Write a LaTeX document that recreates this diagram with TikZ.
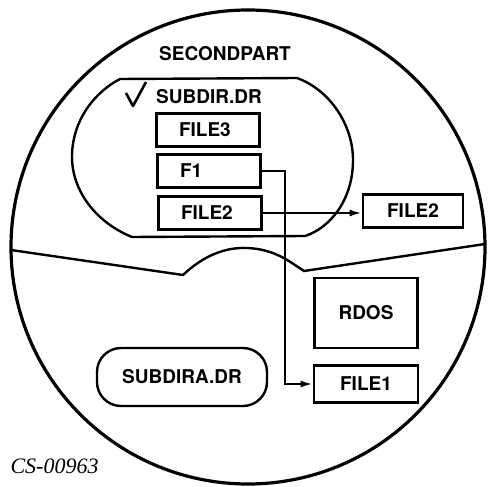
\documentclass[tikz,border=0pt]{standalone}
\usepackage{fontspec}
\setmainfont{TeX Gyre Heros}
\newfontfamily\figfont{Liberation Serif}
\usetikzlibrary{arrows.meta}

\begin{document}
\begin{tikzpicture}[x=1pt,y=-1pt,
  label/.style={font=\fontsize{19}{19}\selectfont\bfseries},
  file/.style={label,draw,line width=2.8pt,minimum height=33pt,inner sep=0pt},
  indent/.style={text width=58pt,inner xsep=22.5pt,align=left},
  link/.style={line width=2pt,-{Latex[length=12pt,width=7pt]}}]
\useasboundingbox (0,0) rectangle (491,487);
\draw[line width=3.2pt] (248,247) circle[radius=237pt];
% part divider with the bump
\draw[line width=2.4pt] (11,250) -- (183,275)
  .. controls (203,256) and (225,247) .. (247,248)
  .. controls (275,249) and (290,262) .. (304,271) -- (485,244);
% SUBDIR.DR region
\draw[line width=2.4pt] (120,79) -- (297,78)
  .. controls (330,90) and (353,125) .. (353,160)
  .. controls (353,200) and (330,228) .. (305,236) -- (132,237)
  .. controls (95,222) and (72,190) .. (72,157)
  .. controls (72,120) and (95,92) .. cycle;
\node[label] (second) at (225,54) {SECONDPART};
\node[label] (subdir) at (209,97) {SUBDIR.DR};
\draw[line width=2.6pt,line join=round] (126,93) -- (133,106) -- (146,82);
\node[file,indent] (file3) at (208,130) {FILE3};
\node[file,indent] (f1) at (209,171) {F1};
\node[file,indent] (file2) at (210,213) {FILE2};
\node[file,minimum width=100pt] (file2b) at (413,211) {FILE2};
\node[file,minimum width=103pt,minimum height=70pt] (rdos) at (366,313) {RDOS};
\node[file,minimum width=104pt,minimum height=37pt] (file1) at (366,384) {FILE1};
\node[label,draw,line width=2.4pt,rounded corners=24pt,minimum width=170pt,
  minimum height=58pt] (subdira) at (182,377) {SUBDIRA.DR};
\draw[link] (file2.east) -- (file2.east -| file2b.west);
\draw[link] (f1.east) -- ++(23,0) |- (file1.west);
\node[font=\figfont\fontsize{22}{22}\selectfont\itshape,anchor=west] (cs) at (7,466) {CS-00963};
\end{tikzpicture}
\end{document}
